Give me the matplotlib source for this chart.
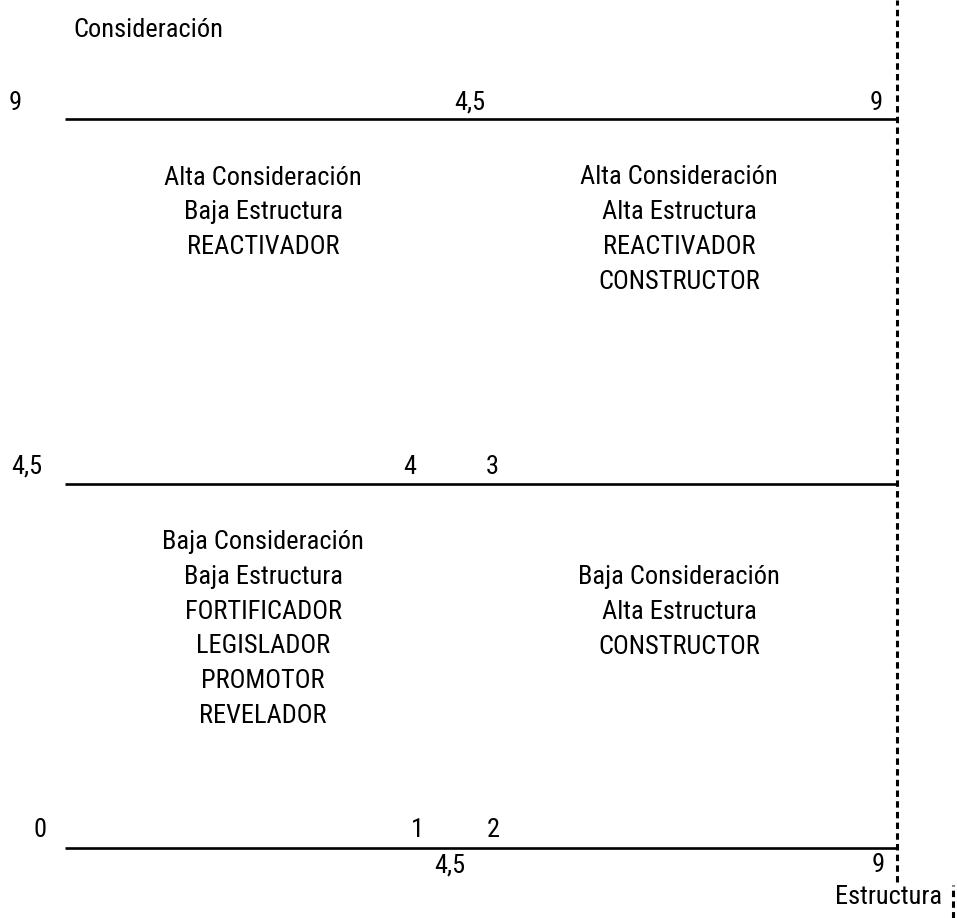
import matplotlib
matplotlib.use("Agg")
import matplotlib.pyplot as plt
from matplotlib import font_manager

names = {f.name for f in font_manager.fontManager.ttflist}
fam = "Roboto"
for cand in ["Liberation Sans Narrow", "Roboto Condensed", "Open Sans Condensed",
             "Noto Sans Condensed", "Roboto"]:
    if cand in names:
        fam = cand
        break
plt.rcParams['font.family'] = [fam, 'DejaVu Sans']

# data
levels = [0, 4.5, 9]
x_max = 9
axis_y_title = "Consideración"
axis_x_title = "Estructura"
quadrants = [
    ("Alta Consideración\nBaja Estructura\nREACTIVADOR", 2.142, 7.846),
    ("Alta Consideración\nAlta Estructura\nREACTIVADOR\nCONSTRUCTOR", 6.642, 7.636),
    ("Baja Consideración\nBaja Estructura\nFORTIFICADOR\nLEGISLADOR\nPROMOTOR\nREVELADOR", 2.142, 2.704),
    ("Baja Consideración\nAlta Estructura\nCONSTRUCTOR", 6.642, 2.914),
]
labels = [
    ("9", -0.541, 9.198), ("4,5", 4.381, 9.198), ("9", 8.773, 9.198),
    ("4,5", -0.411, 4.704), ("4", 3.732, 4.704), ("3", 4.619, 4.704),
    ("0", -0.270, 0.222), ("1", 3.808, 0.222), ("2", 4.630, 0.222),
    ("4,5", 4.165, -0.21), ("9", 8.795, -0.21),
]

fig = plt.figure(figsize=(9.57, 9.18), dpi=100)
ax = fig.add_axes([0, 0, 1, 1])
ax.set_xlim(-0.703, 9.649)
ax.set_ylim(-0.864, 10.469)
ax.axis('off')

# pick a font size so that text widths match the reference
renderer = fig.canvas.get_renderer()
probe = ax.text(0, 0, "Alta Consideración", fontsize=20)
w = probe.get_window_extent(renderer).width
probe.remove()
fs = 20 * 197.0 / w
fs = min(fs, 19.5)
ls = 1.5 * (36.0 / 33.0) * 17.0 / fs * 1.075

for lv in levels:
    ax.plot([0, x_max], [lv, lv], color='black', lw=1.9, solid_capstyle='butt')

ax.plot([x_max, x_max], [-0.42, 10.469], color='black', lw=2.2,
        linestyle=(0, (2.1, 1.4)))
ax.plot([9.606, 9.606], [-0.864, -0.46], color='black', lw=2.2,
        linestyle=(0, (2.1, 1.4)))

ax.text(0.087, 10.10, axis_y_title, fontsize=fs, ha='left', va='center')
ax.text(8.914, -0.605, axis_x_title, fontsize=fs, ha='center', va='center')

for t, x, y in labels:
    ax.text(x, y, t, fontsize=fs, ha='center', va='center')

for t, x, y in quadrants:
    ax.text(x, y, t, fontsize=fs, ha='center', va='center', linespacing=ls)

fig.savefig("out.png", dpi=100)
